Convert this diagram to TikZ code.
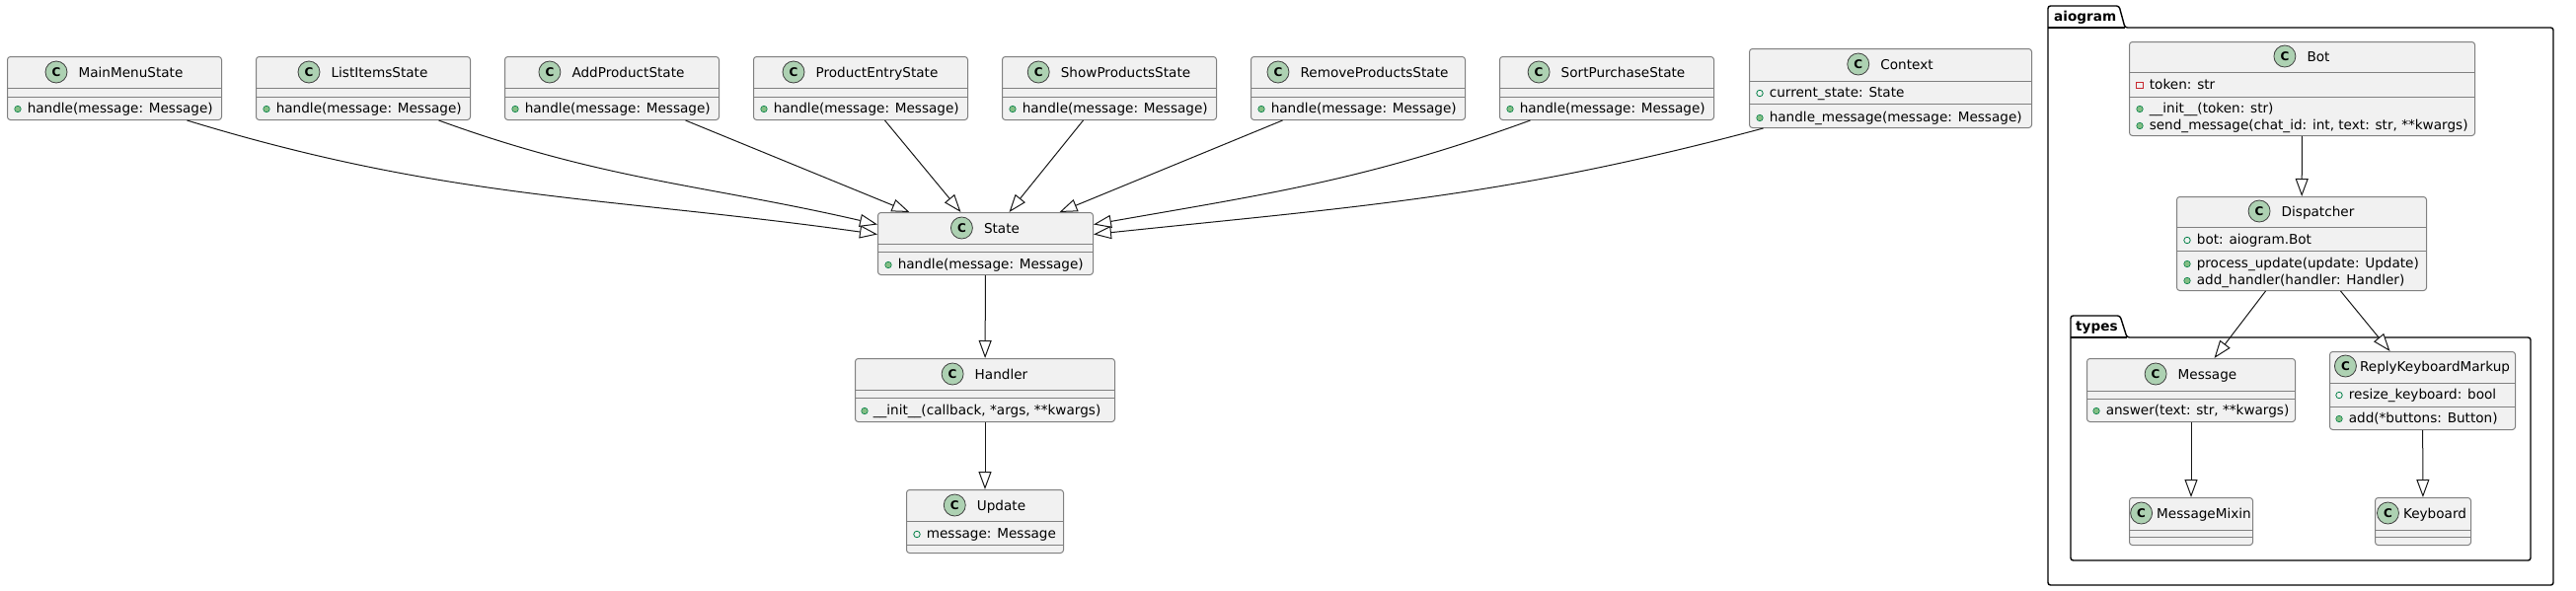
\documentclass[tikz,border=0pt]{standalone}
\usepackage{fontspec}
\setmainfont{DejaVu Sans}
\usetikzlibrary{positioning,arrows.meta}

\definecolor{umlfill}{HTML}{F1F1F1}
\definecolor{umlborder}{HTML}{808080}
\definecolor{badgegreen}{HTML}{ADD1B2}
\definecolor{dotfill}{HTML}{84BE84}
\definecolor{dotline}{HTML}{038048}
\definecolor{privred}{HTML}{C82930}
\definecolor{linecol}{HTML}{181818}

\newcommand{\umlfont}{\fontsize{13.6pt}{16pt}\selectfont}

\tikzset{
  cls/.style={draw=umlborder, fill=umlfill, rounded corners=3pt, line width=1pt, inner sep=0pt, anchor=north west},
  sep/.style={draw=umlborder, line width=1pt},
  cname/.style={inner sep=0pt, anchor=base, font=\umlfont, text height=10pt, text depth=0pt},
  badge/.style={circle, draw=black!75, fill=badgegreen, line width=0.8pt, minimum size=22pt, inner sep=0pt, font=\fontsize{12pt}{12pt}\selectfont\bfseries},
  member/.style={inner sep=0pt, font=\umlfont, text height=10pt, text depth=3pt},
  pubop/.style={circle, draw=dotline, fill=dotfill, line width=0.6pt, minimum size=6.5pt, inner sep=0pt},
  pubfield/.style={circle, draw=dotline, fill=none, line width=0.8pt, minimum size=6.5pt, inner sep=0pt},
  privfield/.style={rectangle, draw=privred, fill=none, line width=0.8pt, minimum size=6.5pt, inner sep=0pt},
  inherit/.style={draw=linecol, line width=1pt, -{Triangle[length=18pt,width=13pt,fill=white]}},
  pkg/.style={draw=black, line width=1.4pt, rounded corners=2.5pt},
  pkgname/.style={inner sep=0pt, anchor=base west, font=\umlfont\bfseries}
}

\begin{document}
\begin{tikzpicture}[x=1pt, y=1pt]
  \useasboundingbox (0,0) rectangle (2610,-598);

  % States of the bot
  \foreach \nm/\lbl [count=\i from 0] in {mainmenu/MainMenuState, listitems/ListItemsState, addproduct/AddProductState, productentry/ProductEntryState, showproducts/ShowProductsState, removeproducts/RemoveProductsState, sortpurchase/SortPurchaseState}{
    \node[cls, minimum width=217pt, minimum height=64pt] (\nm) at ({7+252*\i},-57) {};
    \draw[sep] ([yshift=-32pt]\nm.north west) -- ([yshift=-32pt]\nm.north east);
    \draw[sep] ([yshift=-41pt]\nm.north west) -- ([yshift=-41pt]\nm.north east);
    \node[cname] (\nm-t) at ([xshift=16.5pt,yshift=-21pt]\nm.north) {\lbl};
    \node[badge, left=11pt of \nm-t] (\nm-c) {C};
    \node[pubop] (\nm-d1) at ([xshift=11pt,yshift=-53.5pt]\nm.north west) {};
    \node[member, right=6pt of \nm-d1] (\nm-m1) {handle(message: Message)};
  }

  % Context
  \node[cls, minimum width=286pt, minimum height=80pt] (context) at (1772,-49) {};
  \draw[sep] ([yshift=-33pt]context.north west) -- ([yshift=-33pt]context.north east);
  \draw[sep] ([yshift=-56pt]context.north west) -- ([yshift=-56pt]context.north east);
  \node[cname] (context-t) at ([xshift=16.5pt,yshift=-21pt]context.north) {Context};
  \node[badge, left=11pt of context-t] (context-c) {C};
  \node[pubfield] (context-d1) at ([xshift=11pt,yshift=-45.5pt]context.north west) {};
  \node[member, right=6pt of context-d1] (context-m1) {current\_state: State};
  \node[pubop] (context-d2) at ([xshift=11pt,yshift=-70.5pt]context.north west) {};
  \node[member, right=6pt of context-d2] (context-m2) {handle\_message(message: Message)};

  % State
  \node[cls, minimum width=218pt, minimum height=63pt] (state) at (889,-215) {};
  \draw[sep] ([yshift=-32pt]state.north west) -- ([yshift=-32pt]state.north east);
  \draw[sep] ([yshift=-40pt]state.north west) -- ([yshift=-40pt]state.north east);
  \node[cname] (state-t) at ([xshift=16.5pt,yshift=-21pt]state.north) {State};
  \node[badge, left=11pt of state-t] (state-c) {C};
  \node[pubop] (state-d1) at ([xshift=11pt,yshift=-53.5pt]state.north west) {};
  \node[member, right=6pt of state-d1] (state-m1) {handle(message: Message)};

  % Handler
  \node[cls, minimum width=263pt, minimum height=64pt] (handler) at (866,-363) {};
  \draw[sep] ([yshift=-32pt]handler.north west) -- ([yshift=-32pt]handler.north east);
  \draw[sep] ([yshift=-40pt]handler.north west) -- ([yshift=-40pt]handler.north east);
  \node[cname] (handler-t) at ([xshift=16.5pt,yshift=-21pt]handler.north) {Handler};
  \node[badge, left=11pt of handler-t] (handler-c) {C};
  \node[pubop] (handler-d1) at ([xshift=10pt,yshift=-53.5pt]handler.north west) {};
  \node[member, right=5pt of handler-d1] (handler-m1) {\_\_init\_\_(callback, *args, **kwargs)};

  % Update
  \node[cls, minimum width=159pt, minimum height=64pt] (update) at (918,-496) {};
  \draw[sep] ([yshift=-32pt]update.north west) -- ([yshift=-32pt]update.north east);
  \draw[sep] ([yshift=-56pt]update.north west) -- ([yshift=-56pt]update.north east);
  \node[cname] (update-t) at ([xshift=16.5pt,yshift=-21pt]update.north) {Update};
  \node[badge, left=11pt of update-t] (update-c) {C};
  \node[pubfield] (update-d1) at ([xshift=11pt,yshift=-45.5pt]update.north west) {};
  \node[member, right=6pt of update-d1] (update-m1) {message: Message};

  % Packages
  \draw[pkg] (2075,-593) -- (2075,-6) -- (2147,-6) -- (2153,-28) -- (2587,-28) -- (2587,-593) -- cycle;
  \draw[pkg] (2075,-28) -- (2153,-28);
  \node[pkgname] (aiogram-l) at (2081,-21) {aiogram};
  \draw[pkg] (2098,-568) -- (2098,-320) -- (2148,-320) -- (2155,-342) -- (2564,-342) -- (2564,-568) -- cycle;
  \draw[pkg] (2098,-342) -- (2155,-342);
  \node[pkgname] (types-l) at (2103,-335) {types};

  % Bot
  \node[cls, minimum width=350pt, minimum height=95pt] (bot) at (2157,-42) {};
  \draw[sep] ([yshift=-31pt]bot.north west) -- ([yshift=-31pt]bot.north east);
  \draw[sep] ([yshift=-56pt]bot.north west) -- ([yshift=-56pt]bot.north east);
  \node[cname] (bot-t) at ([xshift=16.5pt,yshift=-20pt]bot.north) {Bot};
  \node[badge, left=11pt of bot-t] (bot-c) {C};
  \node[privfield] (bot-d1) at ([xshift=11pt,yshift=-44.5pt]bot.north west) {};
  \node[member, right=6pt of bot-d1] (bot-m1) {token: str};
  \node[pubop] (bot-d2) at ([xshift=11pt,yshift=-68.5pt]bot.north west) {};
  \node[member, right=6pt of bot-d2] (bot-m2) {\_\_init\_\_(token: str)};
  \node[pubop] (bot-d3) at ([xshift=11pt,yshift=-85.5pt]bot.north west) {};
  \node[member, right=6pt of bot-d3] (bot-m3) {send\_message(chat\_id: int, text: str, **kwargs)};

  % Dispatcher
  \node[cls, minimum width=253pt, minimum height=95pt] (dispatcher) at (2205,-199) {};
  \draw[sep] ([yshift=-31pt]dispatcher.north west) -- ([yshift=-31pt]dispatcher.north east);
  \draw[sep] ([yshift=-55pt]dispatcher.north west) -- ([yshift=-55pt]dispatcher.north east);
  \node[cname] (dispatcher-t) at ([xshift=16.5pt,yshift=-20pt]dispatcher.north) {Dispatcher};
  \node[badge, left=11pt of dispatcher-t] (dispatcher-c) {C};
  \node[pubfield] (dispatcher-d1) at ([xshift=11pt,yshift=-44.5pt]dispatcher.north west) {};
  \node[member, right=6pt of dispatcher-d1] (dispatcher-m1) {bot: aiogram.Bot};
  \node[pubop] (dispatcher-d2) at ([xshift=11pt,yshift=-68.5pt]dispatcher.north west) {};
  \node[member, right=6pt of dispatcher-d2] (dispatcher-m2) {process\_update(update: Update)};
  \node[pubop] (dispatcher-d3) at ([xshift=11pt,yshift=-85.5pt]dispatcher.north west) {};
  \node[member, right=6pt of dispatcher-d3] (dispatcher-m3) {add\_handler(handler: Handler)};

  % Message
  \node[cls, minimum width=211pt, minimum height=64pt] (message) at (2114,-363) {};
  \draw[sep] ([yshift=-33pt]message.north west) -- ([yshift=-33pt]message.north east);
  \draw[sep] ([yshift=-41pt]message.north west) -- ([yshift=-41pt]message.north east);
  \node[cname] (message-t) at ([xshift=16.5pt,yshift=-21pt]message.north) {Message};
  \node[badge, left=11pt of message-t] (message-c) {C};
  \node[pubop] (message-d1) at ([xshift=10pt,yshift=-53.5pt]message.north west) {};
  \node[member, right=6pt of message-d1] (message-m1) {answer(text: str, **kwargs)};

  % ReplyKeyboardMarkup
  \node[cls, minimum width=188pt, minimum height=79pt] (rkm) at (2360,-356) {};
  \draw[sep] ([yshift=-32pt]rkm.north west) -- ([yshift=-32pt]rkm.north east);
  \draw[sep] ([yshift=-56pt]rkm.north west) -- ([yshift=-56pt]rkm.north east);
  \node[cname] (rkm-t) at ([xshift=12.5pt,yshift=-20pt]rkm.north) {ReplyKeyboardMarkup};
  \node[badge, left=3pt of rkm-t] (rkm-c) {C};
  \node[pubfield] (rkm-d1) at ([xshift=10pt,yshift=-44.5pt]rkm.north west) {};
  \node[member, right=6pt of rkm-d1] (rkm-m1) {resize\_keyboard: bool};
  \node[pubop] (rkm-d2) at ([xshift=10pt,yshift=-68.5pt]rkm.north west) {};
  \node[member, right=6pt of rkm-d2] (rkm-m2) {add(*buttons: Button)};

  % MessageMixin, Keyboard
  \node[cls, minimum width=125pt, minimum height=48pt] (mixin) at (2157,-504) {};
  \draw[sep] ([yshift=-33pt]mixin.north west) -- ([yshift=-33pt]mixin.north east);
  \draw[sep] ([yshift=-40pt]mixin.north west) -- ([yshift=-40pt]mixin.north east);
  \node[cname] (mixin-t) at ([xshift=13pt,yshift=-21pt]mixin.north) {MessageMixin};
  \node[badge, left=4pt of mixin-t] (mixin-c) {C};

  \node[cls, minimum width=97pt, minimum height=48pt] (keyboard) at (2406,-504) {};
  \draw[sep] ([yshift=-33pt]keyboard.north west) -- ([yshift=-33pt]keyboard.north east);
  \draw[sep] ([yshift=-40pt]keyboard.north west) -- ([yshift=-40pt]keyboard.north east);
  \node[cname] (keyboard-t) at ([xshift=12pt,yshift=-21pt]keyboard.north) {Keyboard};
  \node[badge, left=4pt of keyboard-t] (keyboard-c) {C};

  % Inheritance
  \draw[inherit] ([xshift=73.5pt]mainmenu.south) to[out=-17, in=172] ([yshift=9.5pt]state.west);
  \draw[inherit] ([xshift=76.5pt]listitems.south) to[out=-20, in=167] ([yshift=19.5pt]state.west);
  \draw[inherit] ([xshift=74.5pt]addproduct.south) -- ([xshift=-77pt]state.north);
  \draw[inherit] ([xshift=24.5pt]productentry.south) -- ([xshift=-25pt]state.north);
  \draw[inherit] ([xshift=-26.5pt]showproducts.south) -- ([xshift=24pt]state.north);
  \draw[inherit] ([xshift=-76.5pt]removeproducts.south) -- ([xshift=75pt]state.north);
  \draw[inherit] ([xshift=-77.5pt]sortpurchase.south) to[out=200, in=10] ([yshift=19.5pt]state.east);
  \draw[inherit] ([xshift=-129pt]context.south) to[out=195, in=6] ([yshift=9.5pt]state.east);
  \draw[inherit] (state) -- (handler);
  \draw[inherit] (handler) -- (update);
  \draw[inherit] (bot) -- (dispatcher);
  \draw[inherit] ([xshift=-36.5pt]dispatcher.south) -- ([xshift=23.5pt]message.north);
  \draw[inherit] ([xshift=39.5pt]dispatcher.south) -- ([xshift=-33pt]rkm.north);
  \draw[inherit] (message) -- (mixin);
  \draw[inherit] (rkm) -- (keyboard);
\end{tikzpicture}
\end{document}
